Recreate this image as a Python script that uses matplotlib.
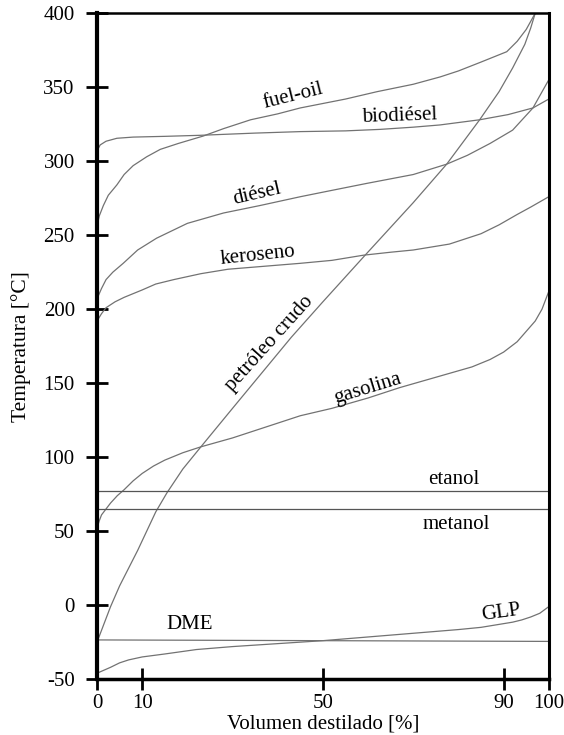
import matplotlib
matplotlib.use("Agg")
import matplotlib.pyplot as plt

plt.rcParams['font.family'] = ['Liberation Serif', 'DejaVu Serif']
plt.rcParams['axes.unicode_minus'] = False

# curvas de destilación: volumen destilado [%] vs temperatura [°C]
fuel_x = [0, 0.5, 1.4, 2.5, 4.4, 6, 8, 11, 14, 18, 23.5, 28, 34, 40, 45, 55, 62, 70, 76, 80, 85, 90.7, 93, 95, 97]
fuel_y = [256, 263, 270, 277, 284, 291, 297, 303, 308, 312, 317, 322, 328, 332, 336, 342, 347, 352, 357, 361, 367, 374, 381, 389, 400]

bio_x = [0, 0.7, 2, 4.4, 8, 15, 22.8, 35, 45, 55, 62.6, 70, 75.9, 84.7, 91, 96.5, 100]
bio_y = [307, 311, 313.5, 315.5, 316.3, 316.8, 317.5, 319, 320, 320.5, 321.5, 323, 324.5, 328, 331.5, 336, 342]

dies_x = [0, 1, 2, 3.5, 5.8, 9, 13.2, 20, 28, 36, 45, 51.5, 59.7, 70, 77.4, 82, 87, 92, 96.5, 100]
dies_y = [207, 214, 220, 225, 231, 240, 248, 258, 265, 270, 276, 280, 285, 291, 298, 304, 312, 321, 336, 355]

kero_x = [0, 1, 2, 4, 6, 10, 13, 17, 23, 29, 37, 45, 52, 59, 65, 70, 78, 85, 89, 93, 96, 100]
kero_y = [192, 197, 201, 205, 208, 213, 217, 220, 224, 227, 229, 231, 233, 236.5, 238.5, 240, 244, 251, 257, 264, 269, 276]

crudo_x = [0, 1, 3, 5, 7, 9, 11, 13, 15.5, 19, 23, 30, 43, 50, 59.5, 70, 77.4, 84.7, 89, 92, 94.7, 96, 97]
crudo_y = [-25, -17, -1, 13, 25, 37, 50, 63, 76, 92, 107, 133, 181, 205, 237, 272, 298, 328, 347, 363, 379, 390, 400]

gas_x = [0, 0.5, 1, 2, 3, 4.5, 6, 8, 10, 12.5, 15, 19, 23, 30, 38, 45, 52, 60, 67, 75, 83, 87, 90, 93, 95, 97, 98.5, 100]
gas_y = [52, 57, 61, 65, 69, 74, 78, 84, 89, 94, 98, 103, 107, 113, 121, 128, 133, 140, 147, 154, 161, 166, 171, 178, 185, 192, 200, 212]

glp_x = [0, 1.5, 3, 5, 7, 10, 15, 22, 30, 40, 50, 60, 70, 80, 85, 89, 92, 94, 96, 98, 100]
glp_y = [-46, -44, -42, -39, -37, -35, -33, -30, -28, -26, -24, -21.5, -19, -16.5, -15, -13, -11.5, -10, -8, -5.5, -1]

dme_x = [0, 50, 100]
dme_y = [-23.5, -24, -24.5]

etanol_t = 77
metanol_t = 65

xticks = [0, 10, 50, 90, 100]
yticks = list(range(-50, 401, 50))

fig = plt.figure(figsize=(5.64, 7.35), dpi=100)
ax = fig.add_axes([0.172, 0.076, 0.801, 0.906])

gris = '#727272'
for xs, ys in [(fuel_x, fuel_y), (bio_x, bio_y), (dies_x, dies_y), (kero_x, kero_y),
               (crudo_x, crudo_y), (gas_x, gas_y), (glp_x, glp_y), (dme_x, dme_y)]:
    ax.plot(xs, ys, color=gris, lw=0.9, solid_joinstyle='round')
ax.axhline(etanol_t, color='#555555', lw=0.9)
ax.axhline(metanol_t, color='#555555', lw=0.9)

# etiquetas de cada combustible
fs = 15
ax.text(43.4, 344, 'fuel-oil', fontsize=fs, rotation=14, ha='center', va='center')
ax.text(67, 330.5, 'biodiésel', fontsize=fs, rotation=2, ha='center', va='center')
ax.text(35.4, 277.5, 'diésel', fontsize=fs, rotation=13, ha='center', va='center')
ax.text(35.6, 236.5, 'keroseno', fontsize=fs, rotation=6, ha='center', va='center')
ax.text(38.3, 177, 'petróleo crudo', fontsize=fs, rotation=48, ha='center', va='center')
ax.text(59.8, 146.5, 'gasolina', fontsize=fs, rotation=17, ha='center', va='center')
ax.text(79, 85, 'etanol', fontsize=fs, ha='center', va='center')
ax.text(79.6, 54.6, 'metanol', fontsize=fs, ha='center', va='center')
ax.text(20.4, -12.8, 'DME', fontsize=fs, ha='center', va='center')
ax.text(89.4, -5, 'GLP', fontsize=fs, rotation=8, ha='center', va='center')

ax.set_xlim(0, 100)
ax.set_ylim(-50, 400)
ax.set_xticks(xticks)
ax.set_yticks(yticks)
ax.tick_params(direction='inout', length=16, width=2, labelsize=15, pad=3)
ax.tick_params(axis='y', pad=8)
ax.spines['left'].set_linewidth(3)
ax.spines['bottom'].set_linewidth(2.5)
ax.spines['top'].set_linewidth(1.8)
ax.spines['right'].set_linewidth(2.2)

ax.set_xlabel('Volumen destilado [%]', fontsize=15, labelpad=1)
ax.set_ylabel('Temperatura [°C]', fontsize=15.5, labelpad=9)

fig.savefig('out.png', dpi=100)
